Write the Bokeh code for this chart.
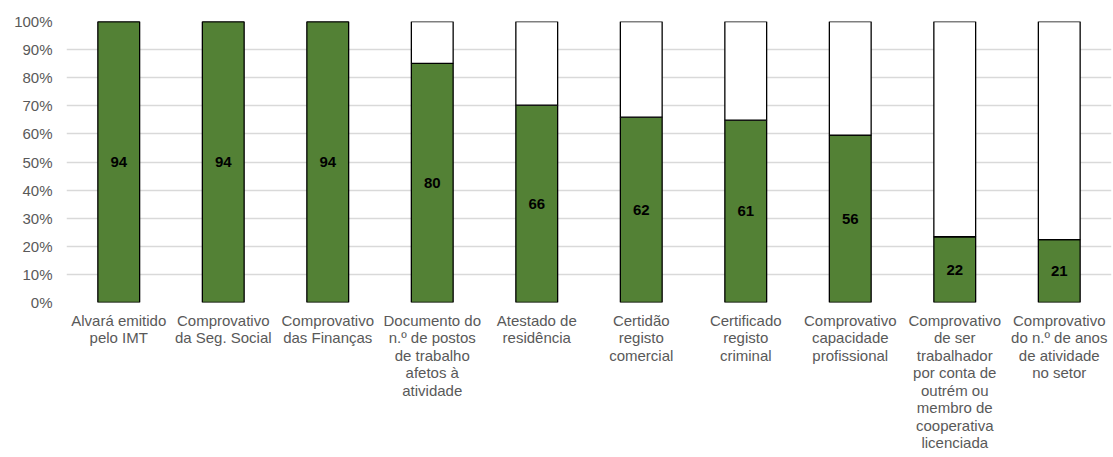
from bokeh.plotting import figure
from bokeh.models import FactorRange, NumeralTickFormatter, FixedTicker, ColumnDataSource
from bokeh.core.properties import value
from bokeh.embed import file_html
from bokeh.resources import INLINE

categories = [
    "Alvará emitido\npelo IMT",
    "Comprovativo\nda Seg. Social",
    "Comprovativo\ndas Finanças",
    "Documento do\nn.º de postos\nde trabalho\nafetos à\natividade",
    "Atestado de\nresidência",
    "Certidão\nregisto\ncomercial",
    "Certificado\nregisto\ncriminal",
    "Comprovativo\ncapacidade\nprofissional",
    "Comprovativo\nde ser\ntrabalhador\npor conta de\noutrém ou\nmembro de\ncooperativa\nlicenciada",
    "Comprovativo\ndo n.º de anos\nde atividade\nno setor",
]
counts = [94, 94, 94, 80, 66, 62, 61, 56, 22, 21]
total = 94
y_ticks = [0, 0.1, 0.2, 0.3, 0.4, 0.5, 0.6, 0.7, 0.8, 0.9, 1.0]

yes_share = [c / total for c in counts]
no_share = [1 - s for s in yes_share]
src = ColumnDataSource(dict(
    cat=categories, yes=yes_share, no=no_share,
    mid=[s / 2 for s in yes_share], lbl=[str(c) for c in counts],
))

p = figure(width=1113, height=457, x_range=FactorRange(*categories, range_padding=0),
           y_range=(0, 1), output_backend="svg", toolbar_location=None,
           min_border_left=66, min_border_right=2, min_border_top=21, min_border_bottom=155)
p.outline_line_color = None
p.background_fill_color = "white"

p.vbar_stack(["yes", "no"], x="cat", width=0.4, source=src,
             fill_color=["#538135", "#ffffff"], line_color="black", line_width=1.3)
p.text(x="cat", y="mid", text="lbl", source=src, text_align="center", text_baseline="middle",
       text_font=value("Liberation Sans"), text_font_size="15px", text_font_style="bold",
       text_color="black")

p.yaxis.ticker = FixedTicker(ticks=y_ticks)
p.yaxis.formatter = NumeralTickFormatter(format="0%")
for ax in (p.xaxis[0], p.yaxis[0]):
    ax.axis_line_color = None
    ax.major_tick_line_color = None
    ax.minor_tick_line_color = None
    ax.major_tick_in = 0
    ax.major_tick_out = 0
    ax.minor_tick_in = 0
    ax.minor_tick_out = 0
    ax.major_label_text_font = "Liberation Sans"
    ax.major_label_text_font_size = "15px"
    ax.major_label_text_color = "#595959"
p.yaxis.major_label_standoff = 14
p.xaxis.major_label_standoff = 9
p.xaxis.major_label_text_line_height = 1.03
p.xgrid.grid_line_color = None
p.ygrid.grid_line_color = "#d9d9d9"
p.ygrid.grid_line_width = 1.3

open("out.html", "w").write(file_html(p, INLINE))
